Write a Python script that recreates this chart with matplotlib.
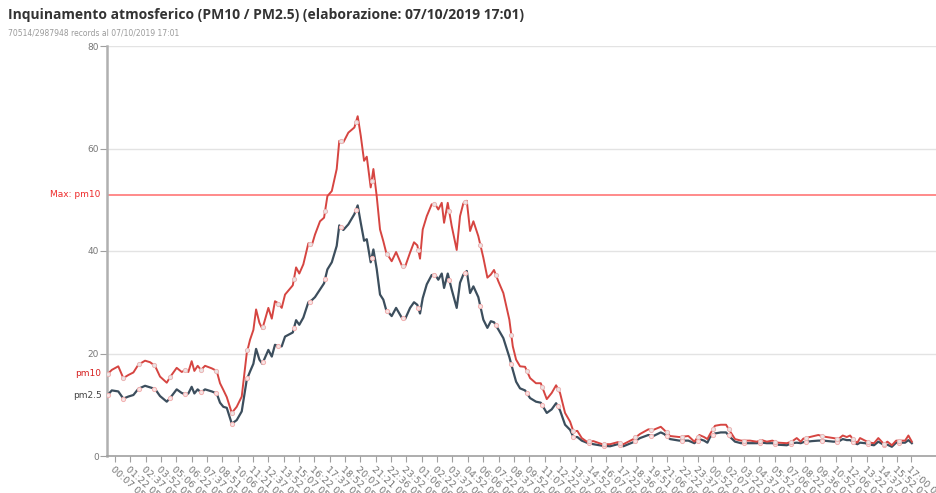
import numpy as np
import matplotlib
matplotlib.use('Agg')
import matplotlib.pyplot as plt

# ore dall'inizio del 05/10 (00:00)
hours = [-0.48, -0.15, 0.38, 0.79, 1.20, 1.61, 2.01, 2.56, 2.97, 3.37, 3.78, 4.33, 4.60, 5.14, 5.55,
         5.88, 6.09, 6.36, 6.58, 6.85, 7.12, 7.45, 8.00, 8.40, 8.67, 8.94, 9.22, 9.49, 9.63, 10.03, 10.44,
         10.85, 11.12, 11.39, 11.61, 11.88, 12.12, 12.61, 12.89, 13.15, 13.42, 13.70, 13.97, 14.60, 14.87,
         15.13, 15.46, 15.87, 16.15, 16.41, 16.82, 17.15, 17.42, 17.78, 18.18, 18.39, 18.72, 19.13, 19.62,
         19.89, 20.14, 20.41, 20.63, 20.95, 21.17, 21.44,
         21.71, 21.98, 22.20, 22.66, 23.02, 23.48, 23.75, 24.16, 24.48, 24.75, 24.97, 25.19, 25.52, 25.92,
         26.19, 26.46, 26.74, 26.93, 27.23, 27.55, 27.96, 28.23, 28.50, 28.78, 29.05, 29.32, 29.72, 30.13,
         30.46, 30.74, 31.00, 31.35, 31.76,
         32.25, 32.53, 32.80, 33.12, 33.53, 33.94, 34.42, 34.81, 35.30, 35.70, 36.06, 36.38, 36.79, 37.20,
         37.47, 37.79, 38.15, 38.56, 39.10, 39.83, 40.46, 41.08, 41.54, 42.36,
         42.90, 43.58, 43.99, 44.59, 44.86, 45.35, 46.10, 46.84, 47.33, 47.73, 48.12, 48.39, 48.61, 49.01,
         49.48, 49.91, 50.24, 50.64, 51.13, 51.87, 52.41, 52.82, 53.23, 53.68, 54.17, 54.86,
         55.26, 55.67, 56.00, 56.21, 56.89, 57.43, 57.84, 58.66, 59.06, 59.42, 59.75, 60.02, 60.34, 60.61,
         60.83, 61.24, 61.65, 61.97, 62.32, 62.60, 62.79, 63.06, 63.42, 63.77, 64.50, 64.77, 65.05]

pm10 = [16.0, 16.8, 17.5, 15.2, 15.8, 16.3, 17.8, 18.6, 18.3, 17.6, 15.5, 14.3, 15.4, 17.2, 16.4,
        16.8, 16.4, 18.5, 16.6, 17.6, 16.8, 17.6, 17.1, 16.6, 14.2, 12.9, 11.5, 9.5, 8.4, 9.6, 11.6,
        20.1, 22.7, 24.6, 28.6, 26.0, 24.8, 28.9, 26.8, 30.2, 29.8, 28.9, 31.5, 33.3, 36.8,
        35.6, 37.4, 41.5, 41.1, 43.2, 45.8, 46.5, 50.7, 51.7, 56.0, 61.5, 61.2, 63.1, 64.1,
        66.3, 62.5, 57.6, 58.4, 52.4, 56.0, 50.7,
        44.2, 41.9, 39.8, 38.0, 39.8, 37.2, 36.9, 39.7, 41.7, 41.1, 38.5, 44.2, 46.8, 49.1,
        49.2, 48.1, 49.4, 45.5, 49.4, 44.9, 40.2, 46.8, 49.3, 49.8, 43.9, 45.8, 42.9, 38.7,
        34.8, 35.4, 36.3, 34.1, 31.8,
        26.6, 21.4, 18.8, 17.5, 17.4, 15.2, 14.2, 14.2, 11.1, 12.3, 13.8, 12.3, 8.4, 6.7,
        4.8, 4.9, 3.5, 2.8, 2.9, 2.3, 2.3, 2.7, 2.3, 3.3,
        4.3, 5.2, 5.1, 5.7, 5.1, 3.9, 3.7, 3.9, 2.8, 4.1, 3.7, 3.3, 4.3, 5.9,
        6.1, 6.1, 4.8, 3.3, 3.0, 3.0, 2.8, 3.1, 2.8, 3.0, 2.6, 2.5,
        2.8, 3.5, 2.8, 3.4, 3.8, 4.1, 3.8, 3.5, 3.3, 4.0, 3.7, 4.0, 3.0, 2.6,
        3.5, 3.0, 2.6, 2.5, 3.5, 2.8, 2.3, 2.8, 2.1, 3.0, 3.0, 4.0, 2.8]

pm25 = [11.9, 12.8, 12.6, 11.2, 11.6, 11.9, 13.1, 13.7, 13.4, 13.1, 11.7, 10.6, 11.3, 13.0, 12.3,
        12.0, 12.2, 13.5, 12.2, 13.0, 12.4, 13.0, 12.6, 12.2, 10.4, 9.6, 9.4, 7.4, 6.3, 7.0, 8.7,
        14.9, 16.5, 18.0, 20.9, 18.8, 18.0, 20.7, 19.4, 21.7, 21.4, 21.4, 23.3, 24.1, 26.5,
        25.6, 27.0, 30.0, 30.4, 31.0, 32.5, 33.7, 36.4, 37.8, 41.0, 45.0, 44.1, 45.2, 47.2,
        48.9, 45.5, 42.0, 42.3, 37.8, 40.3, 36.5,
        31.5, 30.5, 28.6, 27.3, 28.9, 27.0, 26.7, 28.9, 30.0, 29.5, 27.8, 30.8, 33.5, 35.3,
        35.4, 34.4, 35.6, 32.8, 35.6, 32.5, 28.9, 33.8, 35.4, 36.1, 31.8, 33.1, 31.0, 26.6,
        25.0, 26.3, 26.1, 24.7, 23.0,
        19.3, 16.8, 14.5, 13.2, 12.8, 11.3, 10.6, 10.4, 8.4, 9.1, 10.3, 8.9, 6.1, 5.1,
        3.7, 3.7, 3.0, 2.6, 2.3, 2.0, 1.9, 2.3, 1.9, 2.7,
        3.5, 4.1, 3.9, 4.6, 4.3, 3.3, 3.0, 3.0, 2.5, 3.3, 3.0, 2.6, 3.7, 4.4,
        4.6, 4.6, 3.7, 2.8, 2.5, 2.5, 2.5, 2.6, 2.5, 2.5, 2.2, 2.1,
        2.5, 2.6, 2.5, 2.7, 2.9, 3.0, 3.0, 2.8, 2.8, 3.3, 3.1, 3.1, 2.6, 2.3,
        2.6, 2.5, 2.2, 2.1, 2.8, 2.4, 2.1, 2.2, 1.8, 2.6, 2.6, 3.1, 2.5]

max_pm10 = 51

tick_labels = ['00:07 05/10', '01:22 05/10', '02:37 05/10', '03:52 05/10', '05:06 05/10', '06:22 05/10',
               '07:37 05/10', '08:51 05/10', '10:06 05/10', '11:21 05/10', '12:37 05/10', '13:52 05/10',
               '15:07 05/10', '16:22 05/10', '17:37 05/10', '18:52 05/10', '20:07 05/10', '21:21 05/10',
               '22:36 05/10', '23:52 05/10', '01:06 06/10', '02:22 06/10', '03:37 06/10', '04:52 06/10',
               '06:06 06/10', '07:22 06/10', '08:37 06/10', '09:52 06/10', '11:07 06/10', '12:22 06/10',
               '13:37 06/10', '14:52 06/10', '16:07 06/10', '17:22 06/10', '18:36 06/10', '19:51 06/10',
               '21:06 06/10', '22:22 06/10', '23:37 06/10', '00:52 07/10', '02:07 07/10', '03:22 07/10',
               '04:37 07/10', '05:52 07/10', '07:06 07/10', '08:22 07/10', '09:36 07/10', '10:52 07/10',
               '12:06 07/10', '13:22 07/10', '14:37 07/10', '15:52 07/10', '17:00 07/10']

# posizione dei tick in ore
tick_pos = []
for lab in tick_labels:
    t, d = lab.split(' ')
    hh, mm = t.split(':')
    giorno = int(d.split('/')[0]) - 5
    tick_pos.append(giorno * 24 + int(hh) + int(mm) / 60)

RED = '#d64541'
DARK = '#3c4e5d'

fig = plt.figure(figsize=(9.36, 4.93), dpi=100, facecolor='white')
ax = fig.add_axes([107 / 936, 37 / 493, 829 / 936, 410 / 493])

ax.set_xlim(-0.54, 67.02)
ax.set_ylim(0, 80)

for g in [20, 40, 60, 80]:
    ax.axhline(g, color='#e3e3e3', lw=1, zorder=0)
ax.axhline(max_pm10, color='#ff8a8a', lw=1.4, zorder=1)

ax.plot(hours, pm25, color=DARK, lw=1.6, zorder=3, solid_joinstyle='round')
ax.plot(hours, pm10, color=RED, lw=1.4, zorder=4, solid_joinstyle='round')

# marker ogni ~75 minuti
mk = np.arange(hours[0], hours[-1] + 0.01, 1.265)
ax.plot(mk, np.interp(mk, hours, pm25), 'o', ms=3, mfc='#f8e4e4', mec='#f2b0b0', mew=0.7, zorder=5)
ax.plot(mk, np.interp(mk, hours, pm10), 'o', ms=3, mfc='#ece4e4', mec='#eab4b4', mew=0.7, zorder=5)

for s in ['top', 'right']:
    ax.spines[s].set_visible(False)
ax.spines['left'].set_color('#b0b0b0')
ax.spines['left'].set_linewidth(1.8)
ax.spines['bottom'].set_color('#a0a0a0')
ax.spines['bottom'].set_linewidth(1.2)

ax.set_yticks([0, 20, 40, 60, 80])
ax.tick_params(axis='y', colors='#a0a0a0', labelcolor='#777777', labelsize=6.5, length=5, width=0.8, pad=1)
ax.set_xticks(tick_pos)
ax.set_xticklabels(tick_labels, rotation=-42, ha='left', va='top', rotation_mode='anchor')
ax.tick_params(axis='x', colors='#a0a0a0', labelcolor='#777777', labelsize=6.8, length=4, width=0.8, pad=2)

ax.annotate('pm10', xy=(0, pm10[0]), xycoords=('axes fraction', 'data'), xytext=(-4, 0),
            textcoords='offset points', ha='right', va='center', color='#d62020', fontsize=6.5)
ax.annotate('pm2.5', xy=(0, pm25[0]), xycoords=('axes fraction', 'data'), xytext=(-4, 0),
            textcoords='offset points', ha='right', va='center', color='#444444', fontsize=6.5)
ax.annotate('Max: pm10', xy=(0, max_pm10), xycoords=('axes fraction', 'data'), xytext=(-5, 0),
            textcoords='offset points', ha='right', va='center', color='#ee2a2a', fontsize=6.5)

fig.text(8 / 936, 1 - 15 / 493, 'Inquinamento atmosferico (PM10 / PM2.5) (elaborazione: 07/10/2019 17:01)',
         fontsize=10, fontweight='bold', family='Open Sans', color='#333333', va='center')
fig.text(8 / 936, 1 - 33 / 493, '70514/2987948 records al 07/10/2019 17:01',
         fontsize=5.5, color='#9a9a9a', va='center')

plt.savefig('out.png', dpi=100)
